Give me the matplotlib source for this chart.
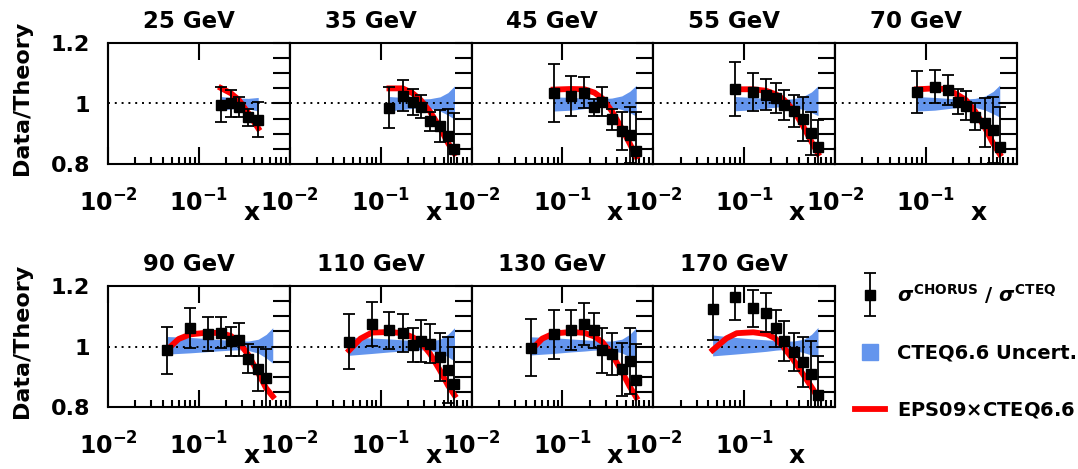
#Cociente Data/Theory (CHORUS / CTEQ6.6) en función de x para varias energías
import matplotlib.pyplot as plt
from matplotlib.lines import Line2D
from matplotlib.ticker import FixedLocator, NullFormatter
from matplotlib.legend_handler import HandlerErrorbar
from matplotlib.container import ErrorbarContainer

#____________________________________________________
# Datos (un sub-lista por panel)
energias = ['25 GeV', '35 GeV', '45 GeV', '55 GeV', '70 GeV',
            '90 GeV', '110 GeV', '130 GeV', '170 GeV']

x_datos = [
    [0.175, 0.225, 0.275, 0.35, 0.45],
    [0.125, 0.175, 0.225, 0.275, 0.35, 0.45, 0.55, 0.65],
    [0.08, 0.125, 0.175, 0.225, 0.275, 0.35, 0.45, 0.55, 0.65],
    [0.08, 0.125, 0.175, 0.225, 0.275, 0.35, 0.45, 0.55, 0.65],
    [0.08, 0.125, 0.175, 0.225, 0.275, 0.35, 0.45, 0.55, 0.65],
    [0.045, 0.08, 0.125, 0.175, 0.225, 0.275, 0.35, 0.45, 0.55],
    [0.045, 0.08, 0.125, 0.175, 0.225, 0.275, 0.35, 0.45, 0.55, 0.65],
    [0.045, 0.08, 0.125, 0.175, 0.225, 0.275, 0.35, 0.45, 0.55, 0.65],
    [0.045, 0.08, 0.125, 0.175, 0.225, 0.275, 0.35, 0.45, 0.55, 0.65],
]
y_datos = [
    [0.996, 1.001, 0.988, 0.954, 0.946],
    [0.986, 1.026, 1.005, 0.990, 0.941, 0.927, 0.891, 0.850],
    [1.034, 1.025, 1.036, 0.987, 1.006, 0.948, 0.910, 0.896, 0.843],
    [1.048, 1.038, 1.029, 1.019, 0.995, 0.975, 0.949, 0.901, 0.857],
    [1.039, 1.056, 1.045, 1.006, 0.993, 0.956, 0.937, 0.912, 0.857],
    [0.987, 1.061, 1.042, 1.046, 1.018, 1.023, 0.959, 0.926, 0.896],
    [1.015, 1.074, 1.053, 1.044, 1.004, 1.018, 1.009, 0.965, 0.923, 0.877],
    [0.996, 1.040, 1.056, 1.075, 1.053, 0.987, 0.975, 0.925, 0.952, 0.888],
    [1.123, 1.165, 1.126, 1.112, 1.060, 1.018, 0.983, 0.950, 0.908, 0.840],
]
y_error = [
    [0.057, 0.045, 0.032, 0.027, 0.058],
    [0.067, 0.051, 0.043, 0.037, 0.032, 0.053, 0.090, 0.120],
    [0.096, 0.066, 0.052, 0.028, 0.047, 0.034, 0.063, 0.093, 0.130],
    [0.090, 0.063, 0.052, 0.050, 0.050, 0.052, 0.072, 0.070, 0.090],
    [0.070, 0.055, 0.050, 0.042, 0.048, 0.045, 0.080, 0.110, 0.130],
    [0.077, 0.067, 0.056, 0.050, 0.048, 0.056, 0.048, 0.074, 0.096],
    [0.091, 0.073, 0.061, 0.062, 0.056, 0.068, 0.065, 0.079, 0.110, 0.120],
    [0.095, 0.082, 0.066, 0.069, 0.057, 0.073, 0.068, 0.088, 0.110, 0.120],
    [0.100, 0.077, 0.062, 0.064, 0.062, 0.065, 0.063, 0.083, 0.110, 0.130],
]

# Banda de incertidumbre CTEQ6.6
banda_x = [
    [0.175, 0.225, 0.275, 0.35, 0.45],
    [0.125, 0.175, 0.225, 0.275, 0.35, 0.45, 0.55, 0.65],
    [0.08, 0.125, 0.175, 0.225, 0.275, 0.35, 0.45, 0.55, 0.65],
    [0.08, 0.125, 0.175, 0.225, 0.275, 0.35, 0.45, 0.55, 0.65],
    [0.08, 0.125, 0.175, 0.225, 0.275, 0.35, 0.45, 0.55, 0.65],
    [0.045, 0.08, 0.125, 0.175, 0.225, 0.275, 0.35, 0.45, 0.55, 0.65],
    [0.045, 0.08, 0.125, 0.175, 0.225, 0.275, 0.35, 0.45, 0.55, 0.65],
    [0.045, 0.08, 0.125, 0.175, 0.225, 0.275, 0.35, 0.45, 0.55, 0.65],
    [0.045, 0.08, 0.125, 0.175, 0.225, 0.275, 0.35, 0.45, 0.55, 0.65],
]
banda_inf = [
    [0.979, 0.982, 0.985, 0.982, 0.975],
    [0.976, 0.980, 0.984, 0.986, 0.984, 0.975, 0.962, 0.948],
    [0.975, 0.978, 0.983, 0.988, 0.990, 0.988, 0.980, 0.970, 0.958],
    [0.976, 0.979, 0.984, 0.988, 0.990, 0.988, 0.980, 0.970, 0.960],
    [0.975, 0.978, 0.983, 0.987, 0.989, 0.987, 0.978, 0.966, 0.955],
    [0.975, 0.979, 0.983, 0.986, 0.988, 0.989, 0.987, 0.978, 0.962, 0.945],
    [0.971, 0.977, 0.982, 0.985, 0.988, 0.989, 0.987, 0.979, 0.966, 0.952],
    [0.972, 0.977, 0.982, 0.985, 0.988, 0.989, 0.987, 0.979, 0.966, 0.952],
    [0.969, 0.975, 0.980, 0.984, 0.988, 0.990, 0.988, 0.980, 0.972, 0.964],
]
banda_sup = [
    [1.023, 1.020, 1.018, 1.017, 1.020],
    [1.023, 1.020, 1.017, 1.015, 1.016, 1.022, 1.036, 1.058],
    [1.022, 1.020, 1.018, 1.016, 1.016, 1.018, 1.025, 1.040, 1.060],
    [1.023, 1.020, 1.017, 1.014, 1.013, 1.016, 1.024, 1.038, 1.058],
    [1.023, 1.020, 1.017, 1.015, 1.015, 1.017, 1.025, 1.040, 1.061],
    [1.033, 1.030, 1.026, 1.023, 1.020, 1.018, 1.018, 1.024, 1.040, 1.062],
    [1.031, 1.028, 1.025, 1.022, 1.020, 1.018, 1.018, 1.024, 1.040, 1.062],
    [1.032, 1.029, 1.025, 1.022, 1.020, 1.018, 1.018, 1.024, 1.040, 1.062],
    [1.038, 1.030, 1.025, 1.022, 1.020, 1.018, 1.018, 1.024, 1.040, 1.063],
]

# Curva EPS09 x CTEQ6.6
eps_x = [
    [0.175, 0.225, 0.275, 0.35, 0.45],
    [0.125, 0.175, 0.225, 0.275, 0.35, 0.45, 0.55, 0.65],
    [0.08, 0.125, 0.175, 0.225, 0.275, 0.35, 0.45, 0.55, 0.65],
    [0.08, 0.125, 0.175, 0.225, 0.275, 0.35, 0.45, 0.55, 0.65],
    [0.08, 0.125, 0.175, 0.225, 0.275, 0.35, 0.45, 0.55, 0.65],
    [0.045, 0.06, 0.08, 0.125, 0.175, 0.225, 0.275, 0.35, 0.45, 0.55, 0.65],
    [0.045, 0.06, 0.08, 0.125, 0.175, 0.225, 0.275, 0.35, 0.45, 0.55, 0.65],
    [0.045, 0.06, 0.08, 0.125, 0.175, 0.225, 0.275, 0.35, 0.45, 0.55, 0.65],
    [0.045, 0.064, 0.083, 0.126, 0.177, 0.22, 0.27, 0.35, 0.45, 0.58, 0.63],
]
eps_y = [
    [1.051, 1.034, 1.012, 0.968, 0.918],
    [1.050, 1.050, 1.034, 1.012, 0.973, 0.920, 0.870, 0.835],
    [1.046, 1.048, 1.047, 1.036, 1.017, 0.975, 0.918, 0.868, 0.825],
    [1.047, 1.047, 1.042, 1.030, 1.012, 0.978, 0.923, 0.874, 0.835],
    [1.047, 1.050, 1.047, 1.028, 1.012, 0.973, 0.918, 0.868, 0.833],
    [0.990, 1.025, 1.040, 1.046, 1.044, 1.035, 1.015, 0.972, 0.912, 0.862, 0.835],
    [0.987, 1.026, 1.046, 1.048, 1.044, 1.031, 1.015, 0.976, 0.921, 0.872, 0.839],
    [0.987, 1.026, 1.043, 1.048, 1.045, 1.033, 1.015, 0.975, 0.918, 0.868, 0.832],
    [0.988, 1.027, 1.044, 1.047, 1.041, 1.027, 0.999, 0.955, 0.906, 0.856, 0.836],
]

#____________________________________________________
# Estilo general
plt.rcParams['font.family'] = 'DejaVu Sans'
plt.rcParams['font.weight'] = 'bold'
azul = '#6495ED'

W, H = 1078, 469
fig = plt.figure(figsize=(W / 100, H / 100), dpi=100)

izq = [108, 289.75, 471.5, 653.25, 835]   # borde izquierdo de cada columna (px)
arriba = [43, 286]                         # borde superior de cada fila (px)
ancho, alto = 181.75, 121

for i, energia in enumerate(energias):
    fila, col = divmod(i, 5)
    ax = fig.add_axes([izq[col] / W, 1 - (arriba[fila] + alto) / H, ancho / W, alto / H])

    ax.fill_between(banda_x[i], banda_inf[i], banda_sup[i], color=azul, lw=0, zorder=1)
    ax.axhline(1, color='black', lw=1.4, ls=(0, (1, 2.5)), zorder=1.5)
    linea_eps, = ax.plot(eps_x[i], eps_y[i], color='red', lw=4.2, zorder=2)
    puntos = ax.errorbar(x_datos[i], y_datos[i], yerr=y_error[i], fmt='s', color='black',
                         ms=6.5, elinewidth=1.3, capsize=4, capthick=1.3, zorder=3)

    ax.set_xscale('log')
    ax.set_xlim(0.01, 1)
    ax.set_ylim(0.8, 1.2)

    # Ejes y marcas
    for s in ax.spines.values():
        s.set_linewidth(1.5)
    ax.xaxis.set_major_locator(FixedLocator([0.01, 0.1, 1]))
    ax.set_xticklabels([r'$\mathbf{10^{-2}}$', r'$\mathbf{10^{-1}}$', ''])
    ax.xaxis.set_minor_locator(FixedLocator([0.02, 0.03, 0.04, 0.05, 0.06, 0.07, 0.08, 0.09,
                                             0.2, 0.3, 0.4, 0.5, 0.6, 0.7, 0.8, 0.9]))
    ax.xaxis.set_minor_formatter(NullFormatter())
    ax.tick_params(axis='x', which='major', direction='in', length=12.5, width=1.5,
                   top=True, bottom=True, labelsize=17, pad=18)
    ax.tick_params(axis='x', which='minor', direction='in', length=5, width=1.5,
                   top=False, bottom=True)

    ax.yaxis.set_major_locator(FixedLocator([0.8, 1.0, 1.2]))
    ax.set_yticklabels(['0.8', '1', '1.2'])
    ax.yaxis.set_minor_locator(FixedLocator([0.85, 0.9, 0.95, 1.05, 1.1, 1.15]))
    ax.tick_params(axis='y', which='both', direction='in', length=12.5, width=1.5,
                   left=False, right=True, labelleft=(col == 0), labelright=False,
                   labelsize=16, pad=13)

    ax.set_xlabel('x', fontsize=18, fontweight='bold', va='bottom')
    ax.xaxis.set_label_coords(0.79, -0.505)
    if col == 0:
        ax.set_ylabel('Data/Theory', fontsize=16, fontweight='bold')
        ax.yaxis.set_label_coords(-0.42, 0.545)

    ax.set_title(energia, x=0.445, y=1.124, pad=0, fontsize=16.5, fontweight='bold')

#____________________________________________________
# Leyenda
cuadro_azul = Line2D([], [], marker='s', ms=12, color=azul, ls='none')
fig.legend([puntos, cuadro_azul, linea_eps],
           [r'$\sigma^{\mathbf{CHORUS}}$ / $\sigma^{\mathbf{CTEQ}}$', 'CTEQ6.6 Uncert.',
            r'EPS09$\times$CTEQ6.6'],
           loc='upper left', bbox_to_anchor=(845 / W, 1 - 272 / H), frameon=False,
           prop={'size': 14, 'weight': 'bold'}, handlelength=1.55, handletextpad=0.6,
           labelspacing=1.95, borderpad=0, numpoints=1,
           handler_map={ErrorbarContainer: HandlerErrorbar(xerr_size=0.4, yerr_size=1.1)})

plt.savefig('out.png', dpi=100)
